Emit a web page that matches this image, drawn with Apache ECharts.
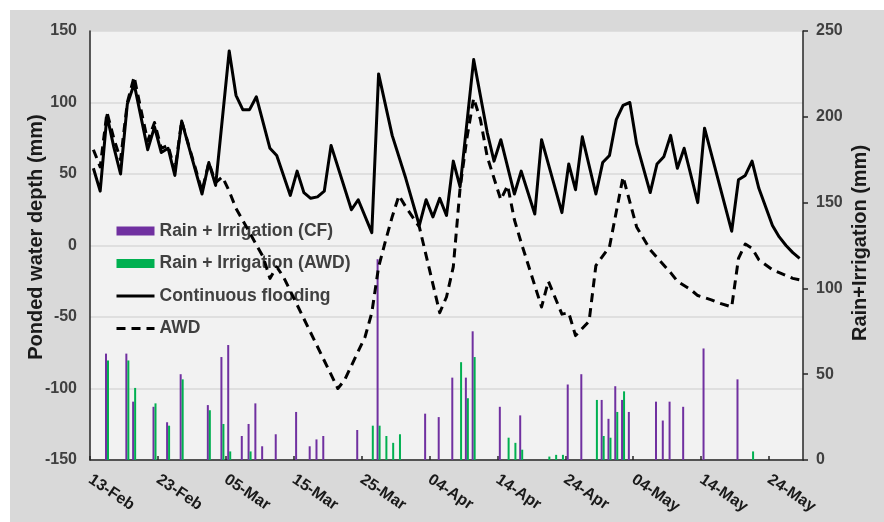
<!DOCTYPE html>
<html>
<head>
<meta charset="utf-8">
<script src="https://cdn.jsdelivr.net/npm/echarts@6/dist/echarts.min.js"></script>
<style>
  html, body { margin: 0; padding: 0; background: #ffffff; }
  #chart { width: 884px; height: 522px; }
</style>
</head>
<body>
<div id="chart"></div>
<script>
// Season runs 13-Feb .. 28-May (105 days), ticks every 10 days
const seasonStart = '13-Feb';
const seasonDays = 105;
const tickStep = 10;

// Ponded water depth (mm), continuous flooding
const cfDates = ['13-Feb','14-Feb','15-Feb','16-Feb','17-Feb','18-Feb','19-Feb','21-Feb','22-Feb','23-Feb','24-Feb','25-Feb','26-Feb',
  '01-Mar','02-Mar','03-Mar','05-Mar','06-Mar','07-Mar','08-Mar','09-Mar','11-Mar','12-Mar','14-Mar','15-Mar','16-Mar','17-Mar',
  '18-Mar','19-Mar','20-Mar','23-Mar','24-Mar','26-Mar','27-Mar','29-Mar','31-Mar','02-Apr','03-Apr','04-Apr','05-Apr','06-Apr',
  '07-Apr','08-Apr','10-Apr','12-Apr','13-Apr','14-Apr','16-Apr','17-Apr','19-Apr','20-Apr','23-Apr','24-Apr','25-Apr','26-Apr',
  '28-Apr','29-Apr','30-Apr','01-May','02-May','03-May','04-May','06-May','07-May','08-May','09-May','10-May','11-May','13-May',
  '14-May','18-May','19-May','20-May','21-May','22-May','24-May','25-May','26-May','27-May','28-May'];
const cfDepth = [54, 38, 91, 69, 50, 99, 113, 67, 83, 65, 68, 49, 87,
  36, 58, 42, 136, 105, 95, 95, 104, 68, 63, 35, 52, 37, 33,
  34, 38, 70, 25, 32, 9, 120, 77, 47, 14, 32, 20, 33, 21,
  59, 41, 130, 79, 59, 74, 36, 52, 22, 74, 23, 57, 39, 76,
  36, 58, 63, 88, 98, 100, 71, 37, 57, 62, 77, 54, 68, 30,
  82, 10, 46, 49, 59, 40, 14, 6, 0, -5, -9];

// Ponded water depth (mm), alternate wetting and drying
const awdDates = ['13-Feb','14-Feb','15-Feb','16-Feb','17-Feb','18-Feb','19-Feb','20-Feb','21-Feb','22-Feb','23-Feb','24-Feb','25-Feb','26-Feb',
  '01-Mar','02-Mar','03-Mar','04-Mar','05-Mar','06-Mar','10-Mar','11-Mar','12-Mar','13-Mar','21-Mar','22-Mar','25-Mar','26-Mar',
  '27-Mar','28-Mar','29-Mar','30-Mar','31-Mar','02-Apr','05-Apr','06-Apr','07-Apr','08-Apr','09-Apr','10-Apr','11-Apr','12-Apr',
  '14-Apr','15-Apr','16-Apr','17-Apr','20-Apr','21-Apr','23-Apr','24-Apr','25-Apr','27-Apr','28-Apr','30-Apr','02-May','04-May',
  '06-May','09-May','10-May','12-May','13-May','15-May','16-May','18-May','19-May','20-May','21-May','22-May','24-May','25-May',
  '26-May','27-May','28-May'];
const awdDepth = [67, 55, 93, 75, 60, 100, 118, 95, 73, 86, 68, 70, 52, 87,
  38, 58, 44, 48, 38, 26, -8, -23, -15, -22, -100, -94, -64, -47,
  -15, 3, 20, 35, 27, 13, -47, -36, -15, 40, 75, 103, 88, 62,
  32, 42, 18, 2, -43, -25, -48, -47, -63, -53, -14, -1, 48, 13,
  -3, -19, -25, -31, -35, -38, -40, -43, -9, 1, -2, -10, -17, -19,
  -21, -23, -24];

// Rain + irrigation (mm), CF plot
const rainCfDates = ['15-Feb','18-Feb','19-Feb','22-Feb','24-Feb','26-Feb','02-Mar','04-Mar','05-Mar','07-Mar','08-Mar','09-Mar',
  '10-Mar','12-Mar','15-Mar','17-Mar','18-Mar','19-Mar','24-Mar','27-Mar','03-Apr','05-Apr','07-Apr','09-Apr','10-Apr','14-Apr',
  '17-Apr','24-Apr','26-Apr','29-Apr','30-Apr','01-May','02-May','03-May','07-May','08-May','09-May','11-May','14-May','19-May'];
const rainCf = [62, 62, 34, 31, 22, 50, 32, 60, 67, 14, 21, 33,
  8, 15, 28, 8, 12, 14, 17.5, 117, 27, 25, 48, 48, 75, 31,
  26, 44, 50, 35, 24, 43, 35, 28, 34, 23, 34, 31, 65, 47];

// Rain + irrigation (mm), AWD plot
const rainAwdDates = ['15-Feb','18-Feb','19-Feb','22-Feb','24-Feb','26-Feb','02-Mar','04-Mar','05-Mar','08-Mar','26-Mar','27-Mar',
  '28-Mar','29-Mar','30-Mar','08-Apr','09-Apr','10-Apr','15-Apr','16-Apr','17-Apr','21-Apr','22-Apr','23-Apr','28-Apr','29-Apr',
  '30-Apr','01-May','02-May','21-May'];
const rainAwd = [58, 58, 42, 33, 20, 47, 29, 21, 5, 5, 20, 20,
  14, 10, 15, 57, 36, 60, 13, 10, 6, 2, 3, 3, 35, 14,
  13, 28, 40, 5];

const MONTHS = ['Jan','Feb','Mar','Apr','May','Jun','Jul','Aug','Sep','Oct','Nov','Dec'];
const DAY_MS = 86400000;
function parseDay(s) {
  const [d, m] = s.split('-');
  return Date.UTC(2023, MONTHS.indexOf(m), +d);
}
function fmtDay(t) {
  const dt = new Date(t);
  return String(dt.getUTCDate()).padStart(2, '0') + '-' + MONTHS[dt.getUTCMonth()];
}
const t0 = parseDay(seasonStart);
const categories = [];
for (let i = 0; i < seasonDays; i++) categories.push(fmtDay(t0 + i * DAY_MS));

const pairs = (dates, vals) => dates.map((d, i) => [d, vals[i]]);

const labelFont = { fontFamily: 'Liberation Sans, Arial, sans-serif', fontWeight: 'bold' };

const chart = echarts.init(document.getElementById('chart'), null, { renderer: 'canvas' });
chart.setOption({
  animation: false,
  backgroundColor: '#ffffff',
  graphic: [{
    type: 'rect', z: -100, silent: true,
    shape: { x: 10, y: 10, width: 874, height: 512 },
    style: { fill: '#d9d9d9' }
  }],
  grid: {
    left: 90, right: 81, top: 31, bottom: 62,
    show: true, backgroundColor: '#f2f2f2', borderWidth: 0
  },
  legend: {
    orient: 'vertical', left: 110, top: 217,
    itemWidth: 38, itemHeight: 9, itemGap: 14.5,
    textStyle: Object.assign({ fontSize: 17.5, color: '#404040', lineHeight: 18 }, labelFont),
    data: [
      { name: 'Rain + Irrigation (CF)', icon: 'rect' },
      { name: 'Rain + Irrigation (AWD)', icon: 'rect' },
      { name: 'Continuous flooding', itemStyle: { opacity: 0 }, lineStyle: { width: 3 } },
      { name: 'AWD', itemStyle: { opacity: 0 }, lineStyle: { width: 3 } }
    ]
  },
  xAxis: [{
    type: 'category', data: categories, boundaryGap: true,
    position: 'top', show: false
  }, {
    type: 'value', min: 0, max: seasonDays, interval: tickStep,
    position: 'bottom',
    axisLine: { show: true, lineStyle: { color: '#262626', width: 1.5 } },
    axisTick: { show: true, inside: true, length: 4, lineStyle: { color: '#262626', width: 1.5 } },
    splitLine: { show: false },
    axisLabel: Object.assign({
      rotate: -34, fontSize: 16, color: '#1a1a1a', margin: 18, showMaxLabel: false,
      formatter: v => (v % tickStep === 0 ? fmtDay(t0 + v * DAY_MS) : '')
    }, labelFont)
  }],
  yAxis: [{
    type: 'value', min: -150, max: 150, interval: 50,
    name: 'Ponded water depth (mm)', nameLocation: 'middle', nameGap: 44, nameRotate: 90,
    nameMoveOverlap: false,
    nameTextStyle: Object.assign({ fontSize: 20, color: '#1a1a1a', padding: [0, 0, 0, 17] }, labelFont),
    axisLine: { show: true, lineStyle: { color: '#262626', width: 1.5 } },
    axisTick: { show: false },
    splitLine: { show: true, lineStyle: { color: '#d9d9d9', width: 1.5 } },
    axisLabel: Object.assign({ fontSize: 16, color: '#404040', margin: 13 }, labelFont)
  }, {
    type: 'value', min: 0, max: 250, interval: 50,
    name: 'Rain+Irrigation (mm)', nameLocation: 'middle', nameGap: 47, nameRotate: 90,
    nameMoveOverlap: false,
    nameTextStyle: Object.assign({ fontSize: 20, color: '#1a1a1a', padding: [0, 0, 0, 5] }, labelFont),
    axisLine: { show: true, lineStyle: { color: '#262626', width: 1.5 } },
    axisTick: { show: true, length: 5, lineStyle: { color: '#262626', width: 1.5 } },
    splitLine: { show: false },
    axisLabel: Object.assign({ fontSize: 16, color: '#404040', margin: 13 }, labelFont)
  }],
  series: [{
    name: 'Rain + Irrigation (CF)', type: 'bar', xAxisIndex: 0, yAxisIndex: 1,
    data: pairs(rainCfDates, rainCf), barWidth: 2, barGap: '0%',
    itemStyle: { color: '#7030a0' }
  }, {
    name: 'Rain + Irrigation (AWD)', type: 'bar', xAxisIndex: 0, yAxisIndex: 1,
    data: pairs(rainAwdDates, rainAwd), barWidth: 2, barGap: '0%',
    itemStyle: { color: '#00b050' }
  }, {
    name: 'Continuous flooding', type: 'line', xAxisIndex: 0, yAxisIndex: 0,
    data: pairs(cfDates, cfDepth), symbol: 'none', smooth: false,
    lineStyle: { color: '#000000', width: 3, join: 'round' },
    itemStyle: { color: '#000000' }, z: 3
  }, {
    name: 'AWD', type: 'line', xAxisIndex: 0, yAxisIndex: 0,
    data: pairs(awdDates, awdDepth), symbol: 'none', smooth: false,
    lineStyle: { color: '#000000', width: 3, type: [9, 6], join: 'round' },
    itemStyle: { color: '#000000' }, z: 4
  }]
});
</script>
</body>
</html>
